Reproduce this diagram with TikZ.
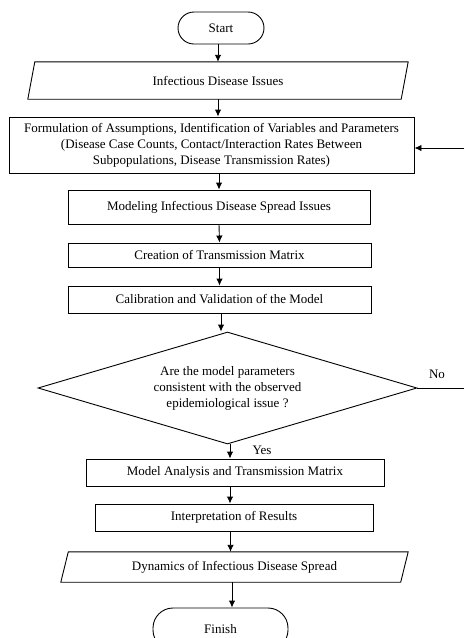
\documentclass[tikz,border=0pt]{standalone}
\usepackage{fontspec}
\setmainfont{Liberation Serif}
\usetikzlibrary{arrows.meta,shapes.geometric}
\tikzset{
  lw/.style={line width=0.9pt},
  base/.style={font=\fontsize{13}{16}\selectfont, align=center, inner sep=0pt},
  procbox/.style={base, draw, lw, rectangle},
  parabox/.style={base, rectangle},
  termbox/.style={base, draw, lw, rectangle, rounded corners=16pt},
  decbox/.style={base, draw, lw, diamond, aspect=3.4},
  arr/.style={lw, -{Latex[length=7pt,width=6.5pt]}},
  lbl/.style={font=\fontsize{13}{16}\selectfont, inner sep=0pt}
}
\begin{document}
\begin{tikzpicture}[x=1pt,y=-1pt]
\useasboundingbox (0,0) rectangle (464,638);
\clip (0,0) rectangle (464,638);
\node[termbox, minimum width=86pt, minimum height=32pt] (start) at (221,28) {Start};
\node[parabox, minimum width=380pt, minimum height=37pt] (p1) at (218,80.5) {Infectious Disease Issues};
\draw[lw] ([xshift=7pt]p1.north west) -- (p1.north east) -- ([xshift=-7pt]p1.south east) -- (p1.south west) -- cycle;
\node[procbox, minimum width=405pt, minimum height=56pt] (f) at (211.5,145) {Formulation of Assumptions, Identification of Variables and Parameters\\(Disease Case Counts, Contact/Interaction Rates Between\\Subpopulations, Disease Transmission Rates)};
\node[procbox, minimum width=302pt, minimum height=34pt] (m) at (219,207) {Modeling Infectious Disease Spread Issues};
\node[procbox, minimum width=303pt, minimum height=24pt] (c) at (219.5,255) {Creation of Transmission Matrix};
\node[procbox, minimum width=303pt, minimum height=27pt] (cal) at (219.5,299.5) {Calibration and Validation of the Model};
\node[decbox, minimum width=379pt, minimum height=112pt] (d) at (227.5,388) {Are the model parameters\\consistent with the observed\\epidemiological issue ?};
\node[procbox, minimum width=298pt, minimum height=27pt] (ma) at (235,472.5) {Model Analysis and Transmission Matrix};
\node[procbox, minimum width=278pt, minimum height=27pt] (ip) at (234,517.5) {Interpretation of Results};
\node[parabox, minimum width=347pt, minimum height=30pt] (p2) at (234.5,567) {Dynamics of Infectious Disease Spread};
\draw[lw] ([xshift=7.5pt]p2.north west) -- (p2.north east) -- ([xshift=-7.5pt]p2.south east) -- (p2.south west) -- cycle;
\node[termbox, minimum width=135pt, minimum height=42pt, rounded corners=20pt] (fin) at (220.5,629) {Finish};
\coordinate (noend) at (464,388);
\coordinate (backin) at (464,148);
\node[lbl] (no) at (437,374) {No};
\node[lbl] (yes) at (262,450) {Yes};
% connectors
\draw[arr] (p1.north |- start.south) -- (p1.north);
\draw[arr] (p1.south) -- (p1.south |- f.north);
\draw[arr] (m.north |- f.south) -- (m.north);
\draw[arr] (m.south) -- (c.north);
\draw[arr] (c.south) -- (cal.north);
\draw[arr] ([xshift=1.5pt]cal.south) -- ([xshift=1.5pt]cal.south |- d.north);
\draw[arr] ([xshift=2.5pt]d.south) -- ([xshift=2.5pt]d.south |- ma.north);
\draw[arr] ([xshift=-5pt]ma.south) -- ([xshift=-5pt]ma.south |- ip.north);
\draw[arr] ([xshift=-3.5pt]ip.south) -- ([xshift=-3.5pt]ip.south |- p2.north);
\draw[arr] ([xshift=-2.5pt]p2.south) -- ([xshift=-2.5pt]p2.south |- fin.north);
\draw[lw] (d.east) -- (noend);
\draw[arr] (backin) -- (backin -| f.east);
\end{tikzpicture}
\end{document}
